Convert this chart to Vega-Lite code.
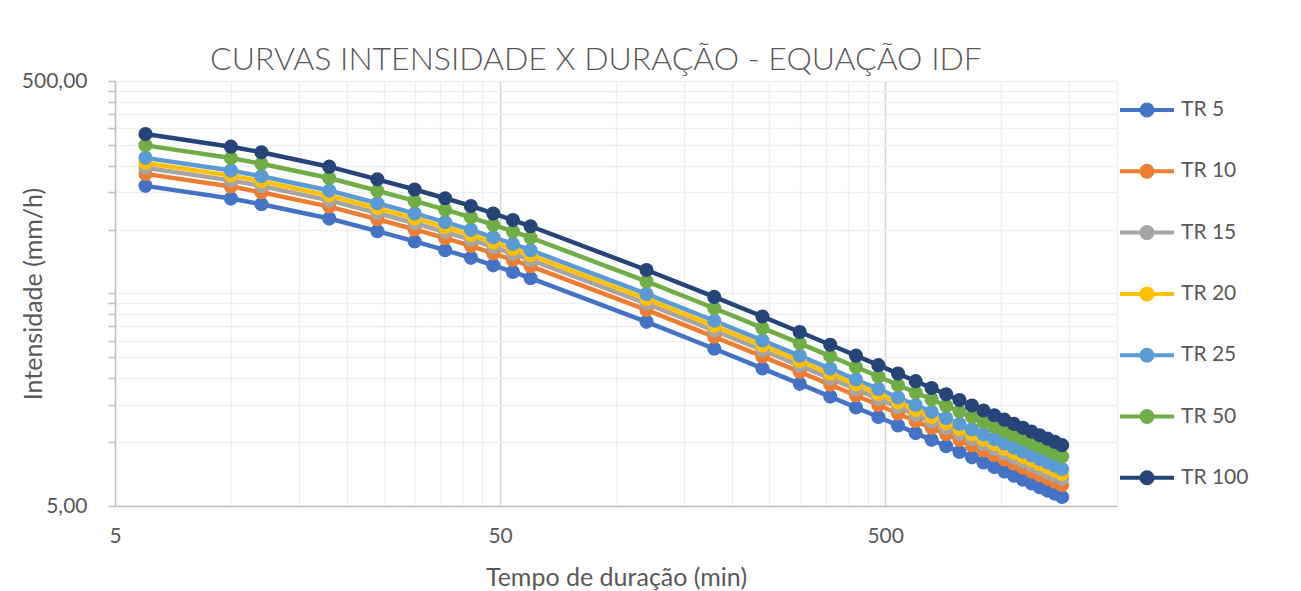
{
  "$schema": "https://vega.github.io/schema/vega-lite/v6.json",
  "width": 1002,
  "height": 425,
  "autosize": {"type": "none"},
  "padding": {"left": 115, "top": 81, "right": 184, "bottom": 85},
  "background": "white",
  "config": {"view": {"stroke": null}},
  "title": {
    "text": "CURVAS INTENSIDADE X DURAÇÃO - EQUAÇÃO IDF",
    "font": "Lato", "fontSize": 32, "fontWeight": 300, "color": "#595959",
    "anchor": "start", "frame": "group", "dx": 95, "dy": 32, "baseline": "alphabetic", "offset": 0
  },
  "data": {"values": [
    {"s":"TR 5","t":6,"v":160.51},{"s":"TR 5","t":10,"v":139.88},{"s":"TR 5","t":12,"v":131.61},{"s":"TR 5","t":18,"v":112.63},{"s":"TR 5","t":24,"v":98.21},{"s":"TR 5","t":30,"v":87.95},{"s":"TR 5","t":36,"v":79.97},{"s":"TR 5","t":42,"v":73.59},{"s":"TR 5","t":48,"v":67.83},{"s":"TR 5","t":54,"v":63.16},{"s":"TR 5","t":60,"v":59.05},{"s":"TR 5","t":120,"v":36.77},{"s":"TR 5","t":180,"v":27.47},{"s":"TR 5","t":240,"v":22.21},{"s":"TR 5","t":300,"v":18.79},{"s":"TR 5","t":360,"v":16.36},{"s":"TR 5","t":420,"v":14.54},{"s":"TR 5","t":480,"v":13.11},{"s":"TR 5","t":540,"v":11.97},{"s":"TR 5","t":600,"v":11.02},{"s":"TR 5","t":660,"v":10.24},{"s":"TR 5","t":720,"v":9.56},{"s":"TR 5","t":780,"v":8.98},{"s":"TR 5","t":840,"v":8.47},{"s":"TR 5","t":900,"v":8.02},{"s":"TR 5","t":960,"v":7.62},{"s":"TR 5","t":1020,"v":7.26},{"s":"TR 5","t":1080,"v":6.94},{"s":"TR 5","t":1140,"v":6.65},{"s":"TR 5","t":1200,"v":6.38},{"s":"TR 5","t":1260,"v":6.13},{"s":"TR 5","t":1320,"v":5.91},{"s":"TR 5","t":1380,"v":5.71},{"s":"TR 5","t":1440,"v":5.51},
    {"s":"TR 10","t":6,"v":182.76},{"s":"TR 10","t":10,"v":159.26},{"s":"TR 10","t":12,"v":149.85},{"s":"TR 10","t":18,"v":128.24},{"s":"TR 10","t":24,"v":111.82},{"s":"TR 10","t":30,"v":100.14},{"s":"TR 10","t":36,"v":91.05},{"s":"TR 10","t":42,"v":83.79},{"s":"TR 10","t":48,"v":77.23},{"s":"TR 10","t":54,"v":71.91},{"s":"TR 10","t":60,"v":67.24},{"s":"TR 10","t":120,"v":41.86},{"s":"TR 10","t":180,"v":31.28},{"s":"TR 10","t":240,"v":25.29},{"s":"TR 10","t":300,"v":21.39},{"s":"TR 10","t":360,"v":18.63},{"s":"TR 10","t":420,"v":16.55},{"s":"TR 10","t":480,"v":14.93},{"s":"TR 10","t":540,"v":13.63},{"s":"TR 10","t":600,"v":12.55},{"s":"TR 10","t":660,"v":11.66},{"s":"TR 10","t":720,"v":10.88},{"s":"TR 10","t":780,"v":10.22},{"s":"TR 10","t":840,"v":9.64},{"s":"TR 10","t":900,"v":9.13},{"s":"TR 10","t":960,"v":8.68},{"s":"TR 10","t":1020,"v":8.27},{"s":"TR 10","t":1080,"v":7.90},{"s":"TR 10","t":1140,"v":7.57},{"s":"TR 10","t":1200,"v":7.26},{"s":"TR 10","t":1260,"v":6.98},{"s":"TR 10","t":1320,"v":6.73},{"s":"TR 10","t":1380,"v":6.50},{"s":"TR 10","t":1440,"v":6.28},
    {"s":"TR 15","t":6,"v":195.43},{"s":"TR 15","t":10,"v":170.31},{"s":"TR 15","t":12,"v":160.24},{"s":"TR 15","t":18,"v":137.13},{"s":"TR 15","t":24,"v":119.58},{"s":"TR 15","t":30,"v":107.08},{"s":"TR 15","t":36,"v":97.37},{"s":"TR 15","t":42,"v":89.60},{"s":"TR 15","t":48,"v":82.59},{"s":"TR 15","t":54,"v":76.90},{"s":"TR 15","t":60,"v":71.90},{"s":"TR 15","t":120,"v":44.76},{"s":"TR 15","t":180,"v":33.45},{"s":"TR 15","t":240,"v":27.04},{"s":"TR 15","t":300,"v":22.87},{"s":"TR 15","t":360,"v":19.92},{"s":"TR 15","t":420,"v":17.70},{"s":"TR 15","t":480,"v":15.96},{"s":"TR 15","t":540,"v":14.57},{"s":"TR 15","t":600,"v":13.42},{"s":"TR 15","t":660,"v":12.46},{"s":"TR 15","t":720,"v":11.64},{"s":"TR 15","t":780,"v":10.93},{"s":"TR 15","t":840,"v":10.31},{"s":"TR 15","t":900,"v":9.76},{"s":"TR 15","t":960,"v":9.28},{"s":"TR 15","t":1020,"v":8.84},{"s":"TR 15","t":1080,"v":8.45},{"s":"TR 15","t":1140,"v":8.09},{"s":"TR 15","t":1200,"v":7.77},{"s":"TR 15","t":1260,"v":7.47},{"s":"TR 15","t":1320,"v":7.20},{"s":"TR 15","t":1380,"v":6.95},{"s":"TR 15","t":1440,"v":6.71},
    {"s":"TR 20","t":6,"v":205.85},{"s":"TR 20","t":10,"v":179.39},{"s":"TR 20","t":12,"v":168.79},{"s":"TR 20","t":18,"v":144.45},{"s":"TR 20","t":24,"v":125.95},{"s":"TR 20","t":30,"v":112.79},{"s":"TR 20","t":36,"v":102.56},{"s":"TR 20","t":42,"v":94.37},{"s":"TR 20","t":48,"v":86.99},{"s":"TR 20","t":54,"v":81.00},{"s":"TR 20","t":60,"v":75.73},{"s":"TR 20","t":120,"v":47.15},{"s":"TR 20","t":180,"v":35.23},{"s":"TR 20","t":240,"v":28.48},{"s":"TR 20","t":300,"v":24.09},{"s":"TR 20","t":360,"v":20.98},{"s":"TR 20","t":420,"v":18.64},{"s":"TR 20","t":480,"v":16.81},{"s":"TR 20","t":540,"v":15.35},{"s":"TR 20","t":600,"v":14.14},{"s":"TR 20","t":660,"v":13.13},{"s":"TR 20","t":720,"v":12.26},{"s":"TR 20","t":780,"v":11.51},{"s":"TR 20","t":840,"v":10.86},{"s":"TR 20","t":900,"v":10.29},{"s":"TR 20","t":960,"v":9.77},{"s":"TR 20","t":1020,"v":9.31},{"s":"TR 20","t":1080,"v":8.90},{"s":"TR 20","t":1140,"v":8.52},{"s":"TR 20","t":1200,"v":8.18},{"s":"TR 20","t":1260,"v":7.87},{"s":"TR 20","t":1320,"v":7.58},{"s":"TR 20","t":1380,"v":7.32},{"s":"TR 20","t":1440,"v":7.07},
    {"s":"TR 25","t":6,"v":217.40},{"s":"TR 25","t":10,"v":189.45},{"s":"TR 25","t":12,"v":178.25},{"s":"TR 25","t":18,"v":152.55},{"s":"TR 25","t":24,"v":133.02},{"s":"TR 25","t":30,"v":119.12},{"s":"TR 25","t":36,"v":108.31},{"s":"TR 25","t":42,"v":99.67},{"s":"TR 25","t":48,"v":91.87},{"s":"TR 25","t":54,"v":85.54},{"s":"TR 25","t":60,"v":79.98},{"s":"TR 25","t":120,"v":49.79},{"s":"TR 25","t":180,"v":37.21},{"s":"TR 25","t":240,"v":30.08},{"s":"TR 25","t":300,"v":25.45},{"s":"TR 25","t":360,"v":22.16},{"s":"TR 25","t":420,"v":19.69},{"s":"TR 25","t":480,"v":17.76},{"s":"TR 25","t":540,"v":16.21},{"s":"TR 25","t":600,"v":14.93},{"s":"TR 25","t":660,"v":13.87},{"s":"TR 25","t":720,"v":12.95},{"s":"TR 25","t":780,"v":12.16},{"s":"TR 25","t":840,"v":11.47},{"s":"TR 25","t":900,"v":10.86},{"s":"TR 25","t":960,"v":10.32},{"s":"TR 25","t":1020,"v":9.84},{"s":"TR 25","t":1080,"v":9.40},{"s":"TR 25","t":1140,"v":9.00},{"s":"TR 25","t":1200,"v":8.64},{"s":"TR 25","t":1260,"v":8.31},{"s":"TR 25","t":1320,"v":8.01},{"s":"TR 25","t":1380,"v":7.73},{"s":"TR 25","t":1440,"v":7.47},
    {"s":"TR 50","t":6,"v":248.93},{"s":"TR 50","t":10,"v":216.93},{"s":"TR 50","t":12,"v":204.12},{"s":"TR 50","t":18,"v":174.68},{"s":"TR 50","t":24,"v":152.31},{"s":"TR 50","t":30,"v":136.40},{"s":"TR 50","t":36,"v":124.03},{"s":"TR 50","t":42,"v":114.12},{"s":"TR 50","t":48,"v":105.20},{"s":"TR 50","t":54,"v":97.95},{"s":"TR 50","t":60,"v":91.58},{"s":"TR 50","t":120,"v":57.02},{"s":"TR 50","t":180,"v":42.61},{"s":"TR 50","t":240,"v":34.44},{"s":"TR 50","t":300,"v":29.14},{"s":"TR 50","t":360,"v":25.37},{"s":"TR 50","t":420,"v":22.54},{"s":"TR 50","t":480,"v":20.33},{"s":"TR 50","t":540,"v":18.56},{"s":"TR 50","t":600,"v":17.10},{"s":"TR 50","t":660,"v":15.88},{"s":"TR 50","t":720,"v":14.82},{"s":"TR 50","t":780,"v":13.92},{"s":"TR 50","t":840,"v":13.14},{"s":"TR 50","t":900,"v":12.44},{"s":"TR 50","t":960,"v":11.82},{"s":"TR 50","t":1020,"v":11.26},{"s":"TR 50","t":1080,"v":10.76},{"s":"TR 50","t":1140,"v":10.31},{"s":"TR 50","t":1200,"v":9.89},{"s":"TR 50","t":1260,"v":9.51},{"s":"TR 50","t":1320,"v":9.17},{"s":"TR 50","t":1380,"v":8.85},{"s":"TR 50","t":1440,"v":8.55},
    {"s":"TR 100","t":6,"v":281.6},{"s":"TR 100","t":10,"v":245.4},{"s":"TR 100","t":12,"v":230.9},{"s":"TR 100","t":18,"v":197.6},{"s":"TR 100","t":24,"v":172.3},{"s":"TR 100","t":30,"v":154.3},{"s":"TR 100","t":36,"v":140.3},{"s":"TR 100","t":42,"v":129.1},{"s":"TR 100","t":48,"v":119.0},{"s":"TR 100","t":54,"v":110.8},{"s":"TR 100","t":60,"v":103.6},{"s":"TR 100","t":120,"v":64.5},{"s":"TR 100","t":180,"v":48.2},{"s":"TR 100","t":240,"v":38.96},{"s":"TR 100","t":300,"v":32.96},{"s":"TR 100","t":360,"v":28.7},{"s":"TR 100","t":420,"v":25.5},{"s":"TR 100","t":480,"v":23.0},{"s":"TR 100","t":540,"v":21.0},{"s":"TR 100","t":600,"v":19.34},{"s":"TR 100","t":660,"v":17.96},{"s":"TR 100","t":720,"v":16.77},{"s":"TR 100","t":780,"v":15.75},{"s":"TR 100","t":840,"v":14.86},{"s":"TR 100","t":900,"v":14.07},{"s":"TR 100","t":960,"v":13.37},{"s":"TR 100","t":1020,"v":12.74},{"s":"TR 100","t":1080,"v":12.17},{"s":"TR 100","t":1140,"v":11.66},{"s":"TR 100","t":1200,"v":11.19},{"s":"TR 100","t":1260,"v":10.76},{"s":"TR 100","t":1320,"v":10.37},{"s":"TR 100","t":1380,"v":10.01},{"s":"TR 100","t":1440,"v":9.67}
  ]},
  "mark": {"type": "line", "strokeWidth": 4.5, "point": {"filled": true, "size": 200, "opacity": 1}},
  "encoding": {
    "x": {
      "field": "t", "type": "quantitative",
      "scale": {"type": "log", "domain": [5, 2000], "nice": false},
      "axis": {
        "values": [5,10,15,20,25,30,35,40,45,50,100,150,200,250,300,350,400,450,500,1000,1500,2000],
        "labelExpr": "datum.value == 5 ? '5' : datum.value == 50 ? '50' : datum.value == 500 ? '500' : ''",
        "labelFlush": false, "labelOverlap": false,
        "labelFont": "Lato", "labelFontSize": 21, "labelColor": "#595959", "labelPadding": 19,
        "ticks": false, "tickSize": 0,
        "domainColor": "#bfbfbf", "domainWidth": 1.5,
        "grid": true, "gridWidth": 1.5,
        "gridColor": {"condition": {"test": "datum.value == 50 || datum.value == 500", "value": "#d4d4d4"}, "value": "#efefef"},
        "title": "Tempo de duração (min)",
        "titleFont": "Lato", "titleFontSize": 25, "titleFontWeight": "normal", "titleColor": "#595959",
        "titleX": 501, "titleY": 71, "titleBaseline": "middle", "titleAlign": "center"
      }
    },
    "y": {
      "field": "v", "type": "quantitative",
      "scale": {"type": "log", "domain": [5, 500], "nice": false},
      "axis": {
        "values": [5,10,15,20,25,30,35,40,45,50,100,150,200,250,300,350,400,450,500],
        "labelExpr": "datum.value == 5 ? '5,00' : datum.value == 500 ? '500,00' : ''",
        "labelOverlap": false,
        "labelFont": "Lato", "labelFontSize": 21, "labelColor": "#595959", "labelPadding": 21,
        "ticks": true, "tickSize": 7, "tickColor": "#bfbfbf", "tickWidth": 1.5,
        "domainColor": "#bfbfbf", "domainWidth": 1.5,
        "grid": true, "gridWidth": 1.5, "gridColor": "#efefef",
        "title": "Intensidade (mm/h)",
        "titleFont": "Lato", "titleFontSize": 25, "titleFontWeight": "normal", "titleColor": "#595959",
        "titleX": -82, "titleY": 212.5, "titleAngle": 270, "titleBaseline": "middle", "titleAlign": "center"
      }
    },
    "color": {
      "field": "s", "type": "nominal",
      "scale": {
        "domain": ["TR 5","TR 10","TR 15","TR 20","TR 25","TR 50","TR 100"],
        "range": ["#4472C4","#ED7D31","#A5A5A5","#FFC000","#5B9BD5","#70AD47","#264478"]
      },
      "legend": {
        "title": null, "orient": "none", "legendX": 1003, "legendY": 0,
        "direction": "vertical", "columns": 1,
        "symbolType": "M-1,0L1,0M0.204,0A0.204,0.204,0,1,1,-0.204,0A0.204,0.204,0,1,1,0.204,0Z",
        "symbolSize": 2916, "symbolStrokeWidth": 4,
        "labelFont": "Lato", "labelFontSize": 21, "labelColor": "#595959", "labelOffset": 5, "labelLimit": 200,
        "rowPadding": 18.3,
        "encode": {"symbols": {"update": {
          "fill": {"scale": "color", "field": "value"},
          "stroke": {"scale": "color", "field": "value"},
          "fillOpacity": {"value": 1}, "strokeOpacity": {"value": 1}, "opacity": {"value": 1}
        }}}
      }
    }
  }
}
